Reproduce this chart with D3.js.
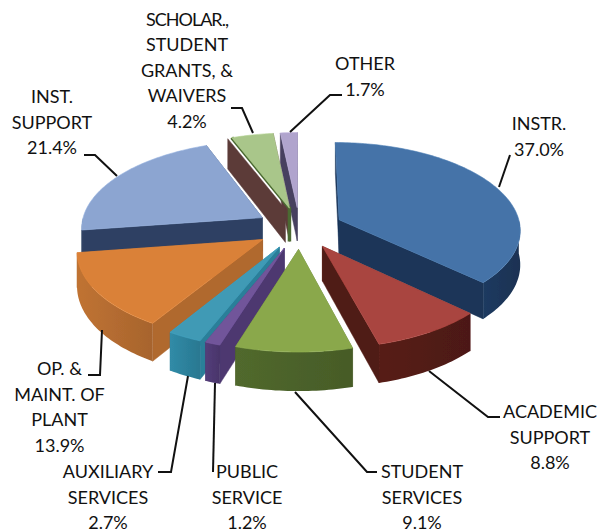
<!DOCTYPE html>
<html><head><meta charset="utf-8">
<script src="https://cdn.jsdelivr.net/npm/d3@7"></script>
<style>html,body{margin:0;padding:0;background:#fff}svg{display:block}text{font-family:Lato,"Open Sans",sans-serif;font-size:18px;fill:#111}</style>
</head><body><div id="c"></div>
<script>
const categories=["INSTR.","ACADEMIC SUPPORT","STUDENT SERVICES","PUBLIC SERVICE","AUXILIARY SERVICES","OP. & MAINT. OF PLANT","INST. SUPPORT","SCHOLAR., STUDENT GRANTS, & WAIVERS","OTHER"];
const values=[37.0,8.8,9.1,1.2,2.7,13.9,21.4,4.2,1.7];
const valueLabels=["37.0%","8.8%","9.1%","1.2%","2.7%","13.9%","21.4%","4.2%","1.7%"];
const labelLines=[["INSTR."],["ACADEMIC","SUPPORT"],["STUDENT","SERVICES"],["PUBLIC","SERVICE"],["AUXILIARY","SERVICES"],["OP. &","MAINT. OF","PLANT"],["INST.","SUPPORT"],["SCHOLAR.,","STUDENT","GRANTS, &","WAIVERS"],["OTHER"]];
const topColors=["#4473a8","#a9443f","#8aa84c","#71559a","#3f9ab5","#da8139","#8ca5d1","#a9c68a","#b0a4cd"];
const wallColors=["#1b3558","#501a14","#4a6029","#4d3870","#2c7f99","#b0692f","#2f4163","#5b3b39","#46415f"];

const W=603,H=532;
const cx=299.5,cy=228,Rx=181.5,Rz=87,depth=34,persp=0.105,explode=0.24;
const svg=d3.select("#c").append("svg").attr("width",W).attr("height",H);
const defs=svg.append("defs");
defs.append("filter").attr("id","soft").append("feGaussianBlur").attr("stdDeviation",0.5);

function project(X,D,z){const s=1/(1-persp*D);return [cx+Rx*X*s,cy+(Rz*D+depth*z)*s];}
const arcs=d3.pie().sort(null).value(d=>d)(values);
const line=d3.line();
function model(a){
  const mid=(a.startAngle+a.endAngle)/2;
  const ox=explode*Math.sin(mid),od=-explode*Math.cos(mid);
  const pt=(t,r,z)=>project(ox+r*Math.sin(t),od-r*Math.cos(t),z);
  return {pt};
}
function range(a,b){const n=Math.max(2,Math.ceil((b-a)/0.02));return d3.range(n+1).map(k=>a+(b-a)*k/n);}
const order=[8,7,6,0,5,4,3,1,2];
const scholarIndex=categories.findIndex(c=>c.startsWith("SCHOLAR"));
const g=svg.append("g").attr("filter","url(#soft)");
order.forEach(i=>{
  const a=arcs[i],m=model(a),ts=range(a.startAngle,a.endAngle);
  const sg=g.append("g").attr("class","slice");
  const apexT=m.pt(0,0,0),apexB=m.pt(0,0,1);
  const face=t=>[apexT,m.pt(t,1,0),m.pt(t,1,1),apexB];
  const midT=m.pt((a.startAngle+a.endAngle)/2,0.6,0);
  const visible=t=>{const p=m.pt(t,1,0),ex=p[0]-apexT[0],ey=p[1]-apexT[1];
    const c2=ex*(midT[1]-apexT[1])-ey*(midT[0]-apexT[0]);return ex*c2<0;};
  const faces=[a.startAngle,a.endAngle].sort((p,q)=>visible(p)-visible(q));
  faces.forEach(t=>{
    const f=sg.append("path").attr("d",line(face(t))+"Z").attr("fill",wallColors[i]).attr("stroke",wallColors[i]).attr("stroke-width",.5);
    if(i===scholarIndex&&visible(t)){
      f.attr("transform","translate(-4,1)");
      sg.append("path").attr("d",line([m.pt(t,1,0),apexT,apexB])).attr("fill","none").attr("stroke","#4c6a33").attr("stroke-width",3.5);
    }
  });
  const lo=Math.max(a.startAngle,Math.PI/2),hi=Math.min(a.endAngle,Math.PI*1.5);
  if(hi>lo){
    const t2=range(lo,hi);
    const pts=t2.map(t=>m.pt(t,1,0)).concat(t2.slice().reverse().map(t=>m.pt(t,1,1)));
    const id="w"+i;
    const lg=defs.append("linearGradient").attr("id",id).attr("gradientUnits","userSpaceOnUse")
      .attr("x1",m.pt(lo,1,0)[0]).attr("x2",m.pt(hi,1,0)[0]).attr("y1",0).attr("y2",0);
    const base=d3.color(wallColors[i]);
    lg.append("stop").attr("offset",0).attr("stop-color",base.darker(.15));
    lg.append("stop").attr("offset",1).attr("stop-color",base.brighter(.25));
    sg.append("path").attr("d",line(pts)+"Z").attr("fill",`url(#${id})`);
  }
  const top=[apexT].concat(ts.map(t=>m.pt(t,1,0)));
  sg.append("path").attr("d",line(top)+"Z").attr("fill",topColors[i]).attr("stroke",d3.color(topColors[i]).brighter(.2)).attr("stroke-width",.6);
});

const leaders=[
 [[510,155],[499,187]],
 [[429,371],[488,417],[500,417]],
 [[295,392],[367,472],[377,472]],
 [[215,383],[213,472]],
 [[188,376],[171,472],[158,472]],
 [[102,330],[100,375],[88,375]],
 [[84,155],[95,155],[117,176]],
 [[231,108],[242,108],[253,133]],
 [[342,95],[330,95],[290,132]]
];
const labelPos=[[539,130],[550,418],[422,478],[247,478],[108,478],[59.5,375],[52,103],[187,25.5],[365,70]];
const lg=svg.append("g");
leaders.forEach(l=>lg.append("path").attr("d",line(l)).attr("fill","none").attr("stroke","#111").attr("stroke-width",2));
const tg=svg.append("g");
categories.forEach((c,i)=>{
  const lines=labelLines[i].concat([valueLabels[i]]);
  const t=tg.append("text").attr("text-anchor","middle").attr("x",labelPos[i][0]).attr("y",labelPos[i][1]);
  lines.forEach((s,k)=>{const sp=t.append("tspan").attr("x",labelPos[i][0]).attr("dy",k?25.6:0).text(s);
    if(s==="SCHOLAR.,")sp.attr("letter-spacing",-1);});
});
</script></body></html>
